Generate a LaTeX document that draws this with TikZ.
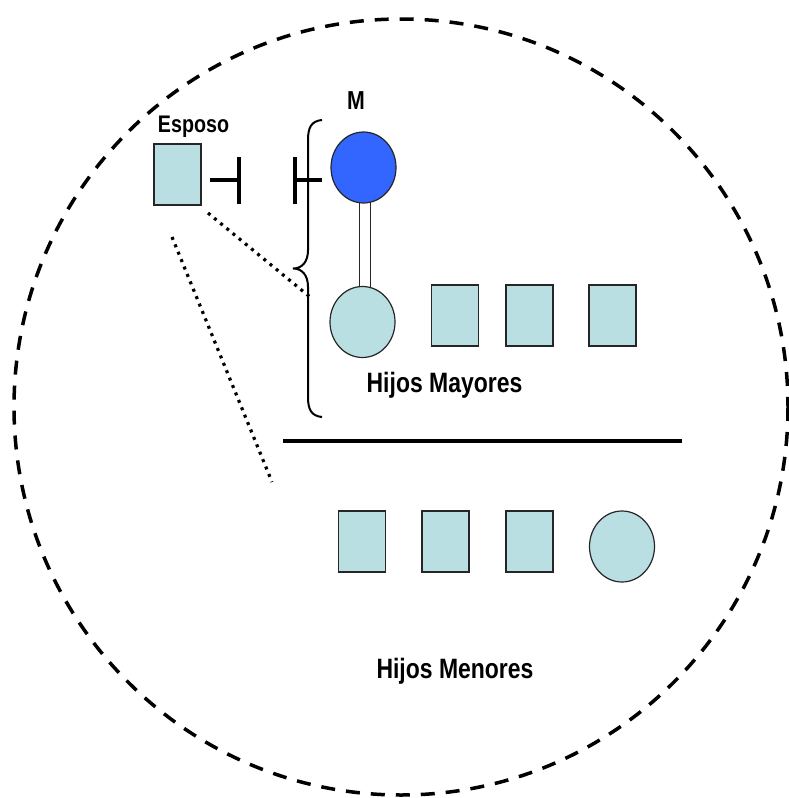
\documentclass[tikz,border=0pt]{standalone}
\usepackage{fontspec}
\usepackage{graphicx}
\setmainfont{Liberation Sans}
\usetikzlibrary{shapes.geometric}
\definecolor{lightfill}{RGB}{185,223,227}
\definecolor{mblue}{RGB}{51,102,255}
\tikzset{
  sq/.style={draw=black!85, line width=1.2pt, fill=lightfill, minimum width=47pt, minimum height=61pt, inner sep=0pt},
  circ/.style={ellipse, draw=black!85, line width=1.2pt, fill=lightfill, minimum width=65pt, minimum height=71pt, inner sep=0pt},
  lbl/.style={anchor=base, inner sep=0pt, font=\bfseries},
  dots/.style={line width=3.2pt, dash pattern=on 3pt off 5pt},
  bar/.style={line width=4pt}
}
\newcommand{\nar}[1]{\scalebox{0.82}[1]{#1}}
\begin{document}
\begin{tikzpicture}[x=1pt,y=-1pt]
\useasboundingbox (0,0) rectangle (789,798);
% outer dashed circle
\draw[line width=3.5pt, dash pattern=on 14pt off 11pt] (401,407) ellipse [x radius=387, y radius=388];
% labels
\node[lbl, font=\bfseries\fontsize{24}{24}\selectfont] (esposoL) at (193.5,132) {\nar{Esposo}};
\node[lbl, font=\bfseries\fontsize{26}{26}\selectfont] (mL) at (356,109) {\nar{M}};
\node[lbl, font=\bfseries\fontsize{28}{28}\selectfont] (mayL) at (444.5,392) {\nar{Hijos Mayores}};
\node[lbl, font=\bfseries\fontsize{28}{28}\selectfont] (menL) at (455,678) {\nar{Hijos Menores}};
% esposo
\node[sq] (esposo) at (177.5,174.5) {};
% T bars
\coordinate (t1a) at (210,180);
\coordinate (t1b) at (239,180);
\coordinate (t1t) at (239,157);
\coordinate (t1d) at (239,204);
\coordinate (t2a) at (295,180);
\coordinate (t2b) at (322,180);
\coordinate (t2t) at (295,157);
\coordinate (t2d) at (295,204);
\draw[bar] (t1a) -- (t1b);
\draw[bar] (t1t) -- (t1d);
\draw[bar] (t2a) -- (t2b);
\draw[bar] (t2t) -- (t2d);
% stalk between M and first child
\node[draw=black!85, line width=1.2pt, fill=white, minimum width=11pt, minimum height=90pt, inner sep=0pt] (stalk) at (365,245) {};
% M circle
\node[circ, fill=mblue] (m) at (363.5,167.5) {};
% first row
\node[circ] (c1) at (362.5,322) {};
\node[sq] (s1) at (455,315.5) {};
\node[sq] (s2) at (529.5,315.5) {};
\node[sq] (s3) at (612.5,315.5) {};
% brace
\coordinate (bt) at (322,120);
\coordinate (bm) at (293,268.5);
\coordinate (bb) at (322,417);
\draw[line width=2pt] (bt) .. controls (311,121) and (308,128) .. (308,140)
  -- (308,250) .. controls (308,262) and (302,268.5) .. (bm)
  .. controls (302,268.5) and (308,275) .. (308,287)
  -- (308,397) .. controls (308,409) and (311,416) .. (bb);
% separator
\coordinate (la) at (283,441);
\coordinate (lb) at (682,441);
\draw[line width=4.5pt] (la) -- (lb);
% dotted lines
\coordinate (d1a) at (208,213);
\coordinate (d1b) at (310,297);
\coordinate (d2a) at (172,237);
\coordinate (d2b) at (272,482);
\draw[dots] (d1a) -- (d1b);
\draw[dots] (d2a) -- (d2b);
% second row
\node[sq] (r1) at (362,541.5) {};
\node[sq] (r2) at (445.5,541.5) {};
\node[sq] (r3) at (529.5,541.5) {};
\node[circ] (rc) at (622,546.5) {};
\end{tikzpicture}
\end{document}
